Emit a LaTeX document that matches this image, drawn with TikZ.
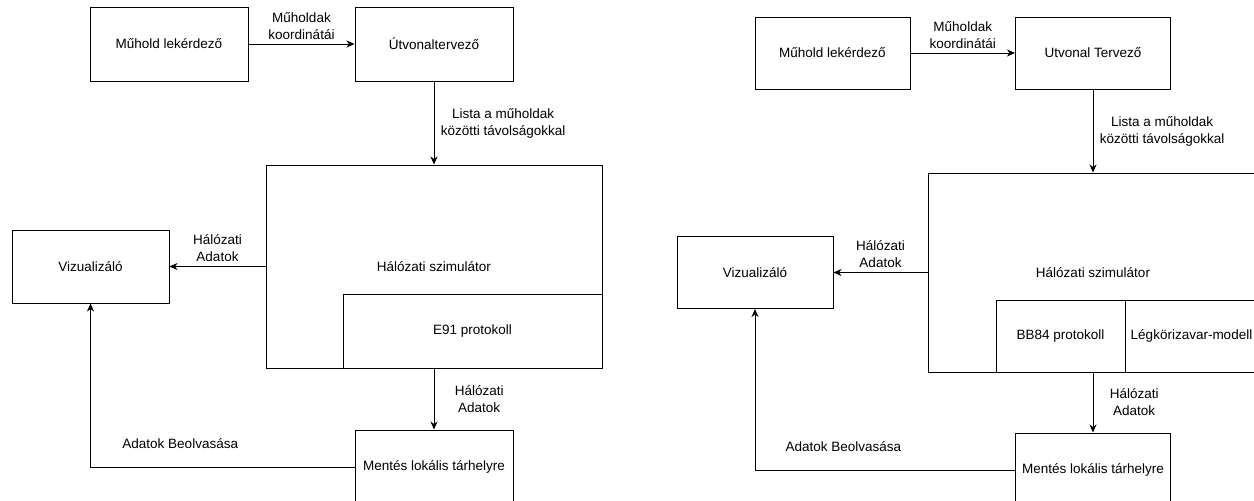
\documentclass[tikz,border=0pt]{standalone}
\usepackage{fontspec}
\setmainfont{Liberation Sans}
\usetikzlibrary{arrows.meta}

\begin{document}
\begin{tikzpicture}[x=1pt, y=-1pt, ->, >={Stealth[length=8pt,width=7pt,inset=2.5pt]},
  line width=1pt, font=\fontsize{13.5}{17}\selectfont,
  block node/.style={rectangle, draw, inner sep=0pt, minimum width=158pt, minimum height=74pt},
  part node/.style={rectangle, draw, inner sep=0pt, minimum height=74pt}]

    \path[use as bounding box, clip] (0,0) rectangle (1254,501);

    % first version (E91)
    \node[block node] (query1) at (169,44) {Műhold lekérdező};
    \node[block node] (route1) at (434,44) {Útvonaltervező};
    \node[block node, minimum width=336pt, minimum height=203pt] (sim1) at (434,266.5) {Hálózati szimulátor};
    \node[part node, minimum width=259pt] (e91) at (472.5,331) {E91 protokoll};
    \node[block node, minimum width=157pt, minimum height=73pt] (vis1) at (90.5,266.5) {Vizualizáló};
    \node[block node] (save1) at (434,467) {Mentés lokális tárhelyre};

    \path[every node/.style={align=center}] (query1) edge node [above=1pt] {Műholdak\\koordinátái} (route1)
    (route1) edge node [right=3pt] {Lista a műholdak\\közötti távolságokkal} (sim1)
    (sim1) edge node [above=1pt] {Hálózati\\Adatok} (vis1)
    (sim1) edge node [right=17pt] {Hálózati\\Adatok} (save1);
    \draw (save1) -| node [pos=0.33, above=15pt] {Adatok Beolvasása} (vis1);

    % second version (BB84)
    \node[block node, minimum width=155pt, minimum height=72pt] (query2) at (832.5,53) {Műhold lekérdező};
    \node[block node, minimum width=155pt, minimum height=72pt] (route2) at (1093,53) {Utvonal Tervező};
    \node[block node, minimum width=330pt, minimum height=199pt] (sim2) at (1093,272.5) {Hálózati szimulátor};
    \node[part node, minimum width=129pt, minimum height=72pt] (bb84) at (1060.5,336) {BB84 protokoll};
    \node[part node, minimum width=133pt, minimum height=72pt] (atmo) at (1191.5,336) {Légkörizavar-modell};
    \node[block node, minimum width=156pt, minimum height=72pt] (vis2) at (755,272.5) {Vizualizáló};
    \node[block node, minimum width=155pt] (save2) at (1093,470) {Mentés lokális tárhelyre};

    \path[every node/.style={align=center}] (query2) edge node [above=1pt] {Műholdak\\koordinátái} (route2)
    (route2) edge node [right=3pt] {Lista a műholdak\\közötti távolságokkal} (sim2)
    (sim2) edge node [above=1pt] {Hálózati\\Adatok} (vis2)
    (sim2) edge node [right=13pt] {Hálózati\\Adatok} (save2);
    \draw (save2) -| node [pos=0.33, above=15pt] {Adatok Beolvasása} (vis2);
\end{tikzpicture}
\end{document}
